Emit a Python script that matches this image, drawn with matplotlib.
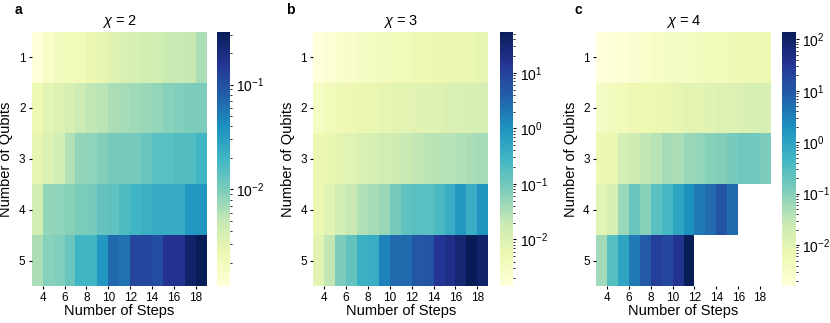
"""Heatmaps of error vs qubits/steps for three bond dimensions."""

import matplotlib
matplotlib.use("Agg")
import matplotlib.pyplot as plt
import matplotlib.colors as mcolors
import numpy as np


# ── data ─────────────────────────────────────────────────────
steps = list(range(3, 19))          # one column per step, 3 .. 18
qubits = [1, 2, 3, 4, 5]
step_ticks = [4, 6, 8, 10, 12, 14, 16, 18]

chi2_rows = [
    [1.2e-3, 1.6e-3, 1.9e-3, 2.1e-3, 2.2e-3, 2.5e-3, 2.8e-3, 3.1e-3,
     3.5e-3, 3.7e-3, 3.9e-3, 4.1e-3, 4.6e-3, 4.6e-3, 4.9e-3, 6.4e-3],
    [2.4e-3, 3.0e-3, 3.3e-3, 3.7e-3, 4.4e-3, 5.2e-3, 5.6e-3, 6.4e-3,
     6.8e-3, 7.2e-3, 7.6e-3, 8.1e-3, 9.0e-3, 9.6e-3, 1.0e-2, 1.0e-2],
    [2.8e-3, 3.3e-3, 4.1e-3, 6.0e-3, 8.1e-3, 8.5e-3, 9.6e-3, 1.05e-2,
     1.1e-2, 1.1e-2, 1.26e-2, 1.5e-2, 1.5e-2, 1.6e-2, 1.6e-2, 2.0e-2],
    [4.1e-3, 8.1e-3, 8.5e-3, 9.0e-3, 1.0e-2, 1.05e-2, 1.3e-2, 1.4e-2,
     1.7e-2, 2.0e-2, 2.2e-2, 2.4e-2, 2.4e-2, 2.4e-2, 3.5e-2, 3.5e-2],
    [6.4e-3, 9.0e-3, 9.6e-3, 1.26e-2, 2.0e-2, 2.0e-2, 3.5e-2, 6.8e-2,
     6.0e-2, 0.115, 0.115, 0.105, 0.16, 0.16, 0.26, 0.32],
]

chi3_rows = [
    [1.45e-3, 1.8e-3, 2.2e-3, 2.4e-3, 3.0e-3, 3.4e-3, 3.7e-3, 4.2e-3,
     4.2e-3, 4.6e-3, 5.1e-3, 5.7e-3, 5.7e-3, 6.3e-3, 6.3e-3, 7.0e-3],
    [3.0e-3, 4.2e-3, 4.6e-3, 5.1e-3, 5.7e-3, 6.3e-3, 7.0e-3, 7.8e-3,
     7.8e-3, 8.7e-3, 8.7e-3, 9.6e-3, 1.07e-2, 1.07e-2, 1.2e-2, 1.3e-2],
    [5.7e-3, 6.3e-3, 7.8e-3, 8.7e-3, 1.07e-2, 1.2e-2, 1.5e-2, 1.6e-2,
     1.8e-2, 2.2e-2, 2.5e-2, 2.8e-2, 2.8e-2, 3.1e-2, 3.4e-2, 3.8e-2],
    [6.3e-3, 8.7e-3, 1.5e-2, 2.0e-2, 3.1e-2, 3.8e-2, 4.7e-2, 8.9e-2,
     0.15, 0.17, 0.17, 0.23, 0.39, 0.81, 0.39, 0.9],
    [7.8e-3, 2.2e-2, 7.9e-2, 0.135, 0.35, 0.39, 1.5, 2.9,
     2.9, 4.9, 5.4, 13.8, 19.0, 29.0, 55.0, 36.0],
]

# rows 4 and 5 stop early for chi = 4
chi4_rows = [
    [1.6e-3, 1.8e-3, 2.0e-3, 2.2e-3, 2.5e-3, 3.1e-3, 3.5e-3, 3.5e-3,
     4.0e-3, 4.4e-3, 5.0e-3, 5.0e-3, 5.5e-3, 6.2e-3, 6.2e-3, 6.9e-3],
    [3.5e-3, 4.4e-3, 5.5e-3, 6.2e-3, 6.9e-3, 6.9e-3, 7.7e-3, 8.7e-3,
     9.7e-3, 9.7e-3, 1.1e-2, 1.2e-2, 1.2e-2, 1.4e-2, 1.55e-2, 1.55e-2],
    [6.9e-3, 7.7e-3, 1.7e-2, 2.2e-2, 3.1e-2, 3.9e-2, 5.4e-2, 4.8e-2,
     6.8e-2, 7.6e-2, 9.6e-2, 0.107, 0.135, 0.15, 0.15, 0.12],
    [9.7e-3, 1.55e-2, 6.8e-2, 0.19, 9.6e-2, 0.27, 0.42, 0.94,
     1.9, 3.7, 5.8, 11.5, 5.8],
    [6.0e-2, 0.3, 0.94, 3.7, 9.2, 23.0, 18.0, 36.0, 141.0],
]

panels = [("a", 2, chi2_rows), ("b", 3, chi3_rows), ("c", 4, chi4_rows)]


# ── style ────────────────────────────────────────────────────
plt.rcParams["font.family"] = ["Liberation Sans", "DejaVu Sans"]
plt.rcParams["mathtext.fontset"] = "custom"
plt.rcParams["mathtext.rm"] = "Liberation Sans"
plt.rcParams["mathtext.it"] = "Liberation Sans:italic"

W, H = 830, 323
fig = plt.figure(figsize=(W / 100, H / 100), dpi=100)

# pixel boxes: heatmap left, colorbar left, panel letter x
lefts = [31.7, 313.3, 596.0]
cb_lefts = [216.7, 500.0, 782.3]
letter_x = [18, 290, 578]
top_px, bot_px = 31.7, 286.0
hm_w, cb_w = 175.0, 13.3

x_edges = np.arange(steps[0], steps[-1] + 2)
y_edges = np.arange(0.5, len(qubits) + 1)

for i, (letter, chi, rows) in enumerate(panels):
    grid = np.full((len(qubits), len(steps)), np.nan)
    for r, vals in enumerate(rows):
        grid[r, :len(vals)] = vals
    grid = np.ma.masked_invalid(grid)

    bottom = (H - bot_px) / H
    height = (bot_px - top_px) / H
    ax = fig.add_axes([lefts[i] / W, bottom, hm_w / W, height])
    cax = fig.add_axes([cb_lefts[i] / W, bottom, cb_w / W, height])

    norm = mcolors.LogNorm(vmin=grid.min(), vmax=grid.max())
    mesh = ax.pcolormesh(x_edges, y_edges, grid, cmap="YlGnBu", norm=norm,
                         shading="flat", linewidth=0, rasterized=True)
    ax.set_xlim(x_edges[0], x_edges[-1])
    ax.set_ylim(y_edges[-1], y_edges[0])
    ax.set_xticks(step_ticks)
    ax.set_yticks(qubits)
    ax.tick_params(length=2.5, width=0.8, labelsize=8.5, pad=2)
    for sp in ax.spines.values():
        sp.set_visible(False)
    ax.set_xlabel("Number of Steps", fontsize=10.5, labelpad=0)
    ax.set_ylabel("Number of Qubits", fontsize=10.5, labelpad=4)
    ax.set_title(rf"$\chi$ = {chi}", fontsize=10.5, pad=5)

    cb = fig.colorbar(mesh, cax=cax)
    cb.outline.set_visible(False)
    cax.tick_params(which="major", length=2.5, width=0.8, labelsize=10, pad=2)
    cax.tick_params(which="minor", length=1.5, width=0.6)

    fig.text(letter_x[i] / W, 1 - 10 / H, letter, fontsize=10,
             fontweight="bold", ha="center", va="center")

fig.savefig("out.png", dpi=100, facecolor="white")
